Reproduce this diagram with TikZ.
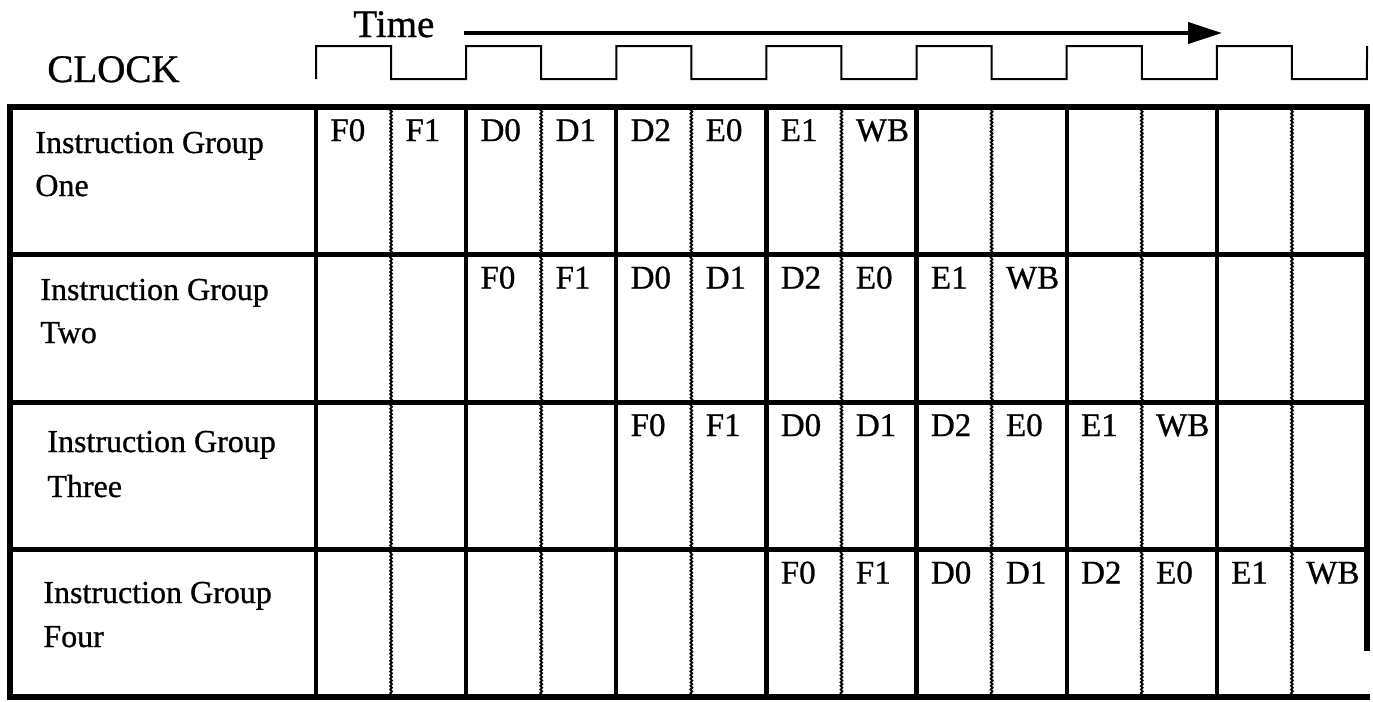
\documentclass[tikz,border=0pt]{standalone}
\usepackage{fontspec}
\setmainfont{Liberation Serif}[FakeBold=0.8]
\newfontfamily\heavyserif{Liberation Serif}[FakeBold=0.8]
\usetikzlibrary{decorations.pathmorphing,arrows.meta}
\begin{document}
\begin{tikzpicture}[x=0.5pt,y=-0.5pt,
  borderline/.style={line width=3pt, line cap=rect},
  rowline/.style={line width=2.5pt},
  solidline/.style={line width=2.1pt},
  wavyline/.style={line width=0.9pt, decorate, decoration={snake, amplitude=0.45pt, segment length=1.8pt}},
  clockline/.style={line width=1pt, line join=miter},
  rowlabel/.style={font=\heavyserif\fontsize{16}{18}\selectfont, anchor=base west, inner sep=0pt},
  celllabel/.style={font=\heavyserif\fontsize{16.5}{18}\selectfont, anchor=base west, inner sep=0pt},
  bigtext/.style={font=\heavyserif\fontsize{19.5}{22}\selectfont, anchor=base west, inner sep=0pt}]
\useasboundingbox (0,0) rectangle (1373,702);
\fill[white] (0,0) rectangle (1373,702);

% header
\node[bigtext] (time) at (353,37) {Time};
\node[bigtext] (clock) at (47,82) {CLOCK};
\coordinate (arrowstart) at (464,33);
\coordinate (arrowend) at (1222,33);
\draw[line width=2.2pt, -{Triangle[length=17pt,width=10.5pt]}] (arrowstart) -- (arrowend);

% clock waveform
\draw[clockline] (316,79)
  \foreach \i in {0,...,6} {
    -- ({316+150.14*\i},46) -- ({391.07+150.14*\i},46) -- ({391.07+150.14*\i},79) -- ({466.14+150.14*\i},79)
  } -- (1367,46);

% column dividers
\foreach \k in {1,3,...,13} {
  \draw[wavyline] ({316+75.07*\k},107) -- ({316+75.07*\k},697);
}
\foreach \k in {0,2,...,12} {
  \draw[solidline] ({316+75.07*\k},107) -- ({316+75.07*\k},697);
}
% row separators
\foreach \y in {254.5,402,549.5} {
  \draw[rowline] (10,\y) -- (1367,\y);
}
% outer border
\draw[borderline] (1367,648) -- (1367,107) -- (10,107) -- (10,697) -- (1367,697);

% row labels
\node[rowlabel] (r1a) at (35,153) {Instruction Group};
\node[rowlabel] (r1b) at (35,196) {One};
\node[rowlabel] (r2a) at (40,300) {Instruction Group};
\node[rowlabel] (r2b) at (40,343) {Two};
\node[rowlabel] (r3a) at (47,452) {Instruction Group};
\node[rowlabel] (r3b) at (47,497) {Three};
\node[rowlabel] (r4a) at (43,603) {Instruction Group};
\node[rowlabel] (r4b) at (43,647) {Four};

% stage labels
\foreach \r/\t/\s in {1/107/1, 2/254.5/3, 3/402/5, 4/549.5/7} {
  \foreach \lab [count=\i from 0] in {F0,F1,D0,D1,D2,E0,E1,WB} {
    \pgfmathsetmacro\xx{316+75.07*(\s-1+\i)+14}
    \pgfmathsetmacro\yy{\t+34}
    \node[celllabel] (c\r-\i) at (\xx,\yy) {\lab};
  }
}
\end{tikzpicture}
\end{document}
